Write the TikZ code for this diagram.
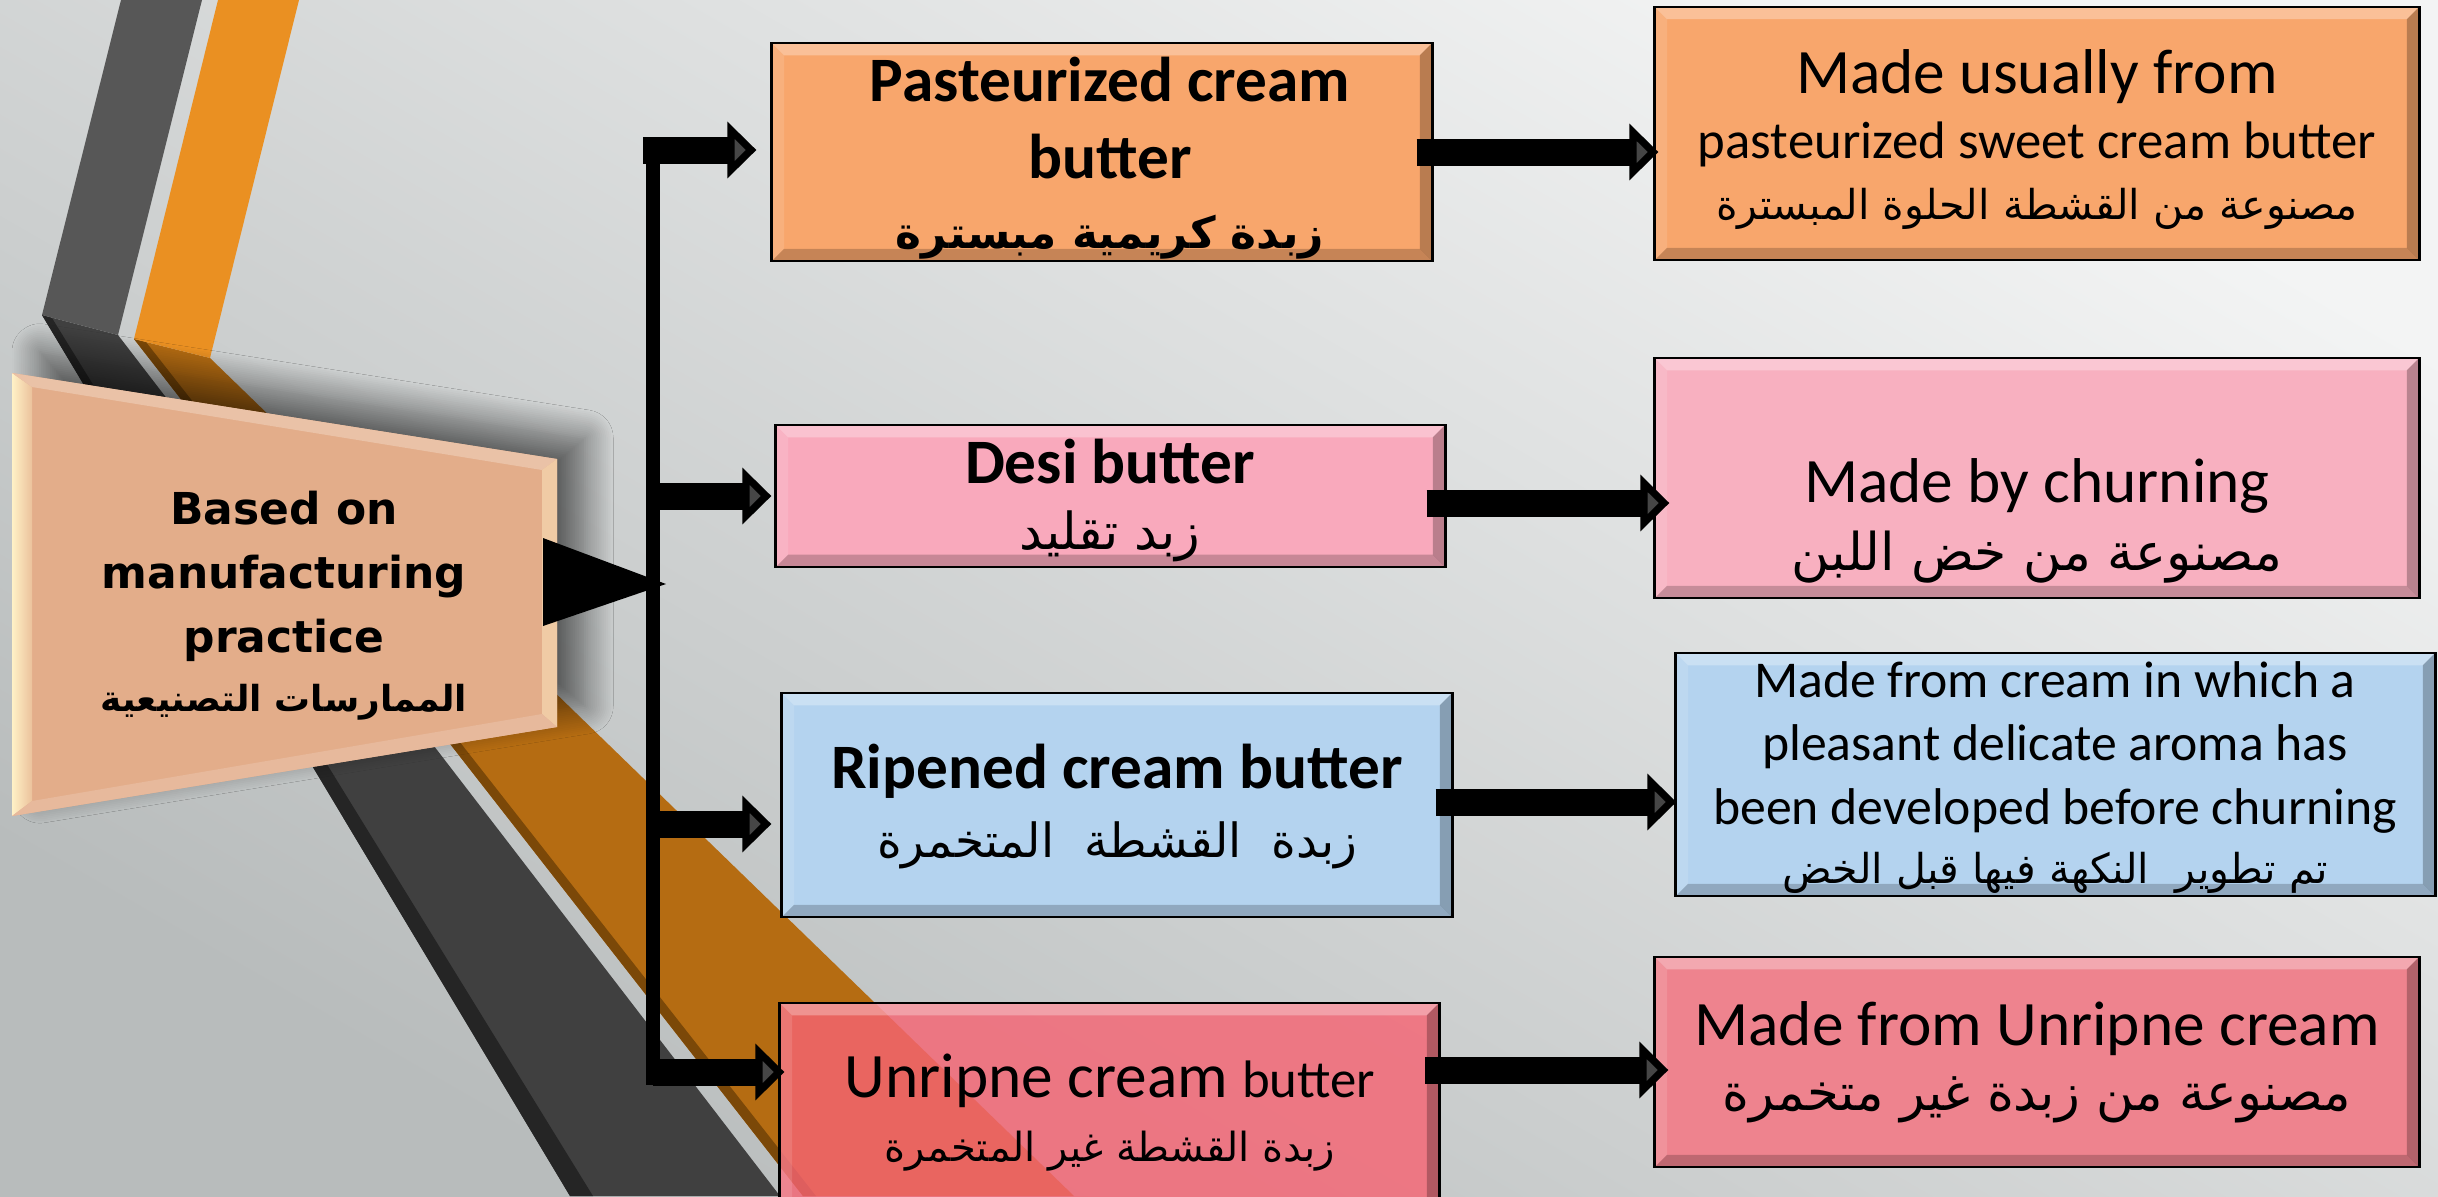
\documentclass[tikz,border=0pt]{standalone}
\usepackage{fontspec}
\setmainfont{Carlito}
\newfontfamily\arabicfont[Script=Arabic]{DejaVu Sans}
\newfontfamily\heavyfont{DejaVu Sans}
\TeXXeTstate=1
\usetikzlibrary{arrows.meta,calc,shadows.blur}
\newcommand\arb[1]{{\arabicfont\beginR#1\endR}}

\definecolor{bgtop}{HTML}{F3F4F4}
\definecolor{bgbot}{HTML}{B8BCBC}
\definecolor{greyup}{HTML}{575757}
\definecolor{greylow}{HTML}{404040}
\definecolor{greyedge}{HTML}{252525}
\definecolor{amberup}{HTML}{EA9022}
\definecolor{amberlow}{HTML}{B56C12}
\definecolor{amberedge}{HTML}{7B4808}
\definecolor{peach}{HTML}{E3AD8A}
\definecolor{cream}{HTML}{FFF1C6}
\definecolor{boxorange}{HTML}{F8A66C}
\definecolor{boxpink}{HTML}{F9A9BC}
\definecolor{boxpinklt}{HTML}{F8B0C0}
\definecolor{boxblue}{HTML}{B4D3EF}
\definecolor{boxred}{HTML}{F66473}
\definecolor{boxredlt}{HTML}{EE838E}

\tikzset{
  bevel/.style={path picture={
    \coordinate (bbsw) at (path picture bounding box.south west);
    \coordinate (bbse) at (path picture bounding box.south east);
    \coordinate (bbnw) at (path picture bounding box.north west);
    \coordinate (bbne) at (path picture bounding box.north east);
    \fill[white, opacity=.3] (bbnw) -- (bbne) -- ([shift={(-3.5pt,-3.5pt)}]bbne) -- ([shift={(3.5pt,-3.5pt)}]bbnw) -- cycle;
    \fill[white, opacity=.12] (bbnw) -- ([shift={(3.5pt,-3.5pt)}]bbnw) -- ([shift={(3.5pt,3.5pt)}]bbsw) -- (bbsw) -- cycle;
    \fill[black, opacity=.2] (bbsw) -- ([shift={(3.5pt,3.5pt)}]bbsw) -- ([shift={(-3.5pt,3.5pt)}]bbse) -- (bbse) -- cycle;
    \fill[black, opacity=.25] (bbse) -- ([shift={(-3.5pt,3.5pt)}]bbse) -- ([shift={(-3.5pt,-3.5pt)}]bbne) -- (bbne) -- cycle;
  }},
  box/.style={draw=black, line width=0.8pt, inner sep=0pt, bevel},
  txt/.style={align=center, inner sep=0pt, anchor=north},
  fat/.style={line width=0.27cm, -{Triangle[width=0.55cm,length=0.29cm]}},
}

\begin{document}
\begin{tikzpicture}[x=0.01cm, y=-0.01cm]
\lineskiplimit=-100pt
\useasboundingbox (0,0) rectangle (2438,1196);
\clip (0,0) rectangle (2438,1196);
\shade[top color=bgtop, bottom color=bgbot, shading angle=-30] (0,0) rectangle (2438,1196);

% stripes
\fill[greylow] (42,315) -- (118,335) -- (780,1196) -- (570,1196) -- cycle;
\fill[greyedge] (42,315) -- (52,318) -- (593,1196) -- (570,1196) -- cycle;
\fill[amberlow] (134,339) -- (210,358) -- (1074,1196) -- (803,1196) -- cycle;
\fill[amberedge] (134,339) -- (146,342) -- (816,1196) -- (803,1196) -- cycle;
\fill[greyup] (121,0) -- (202,0) -- (118,335) -- (42,315) -- cycle;
\fill[amberup] (218,0) -- (299,0) -- (210,358) -- (134,339) -- cycle;

% left box
\coordinate (bA) at (12,373);
\coordinate (bB) at (557,459);
\coordinate (bC) at (557,727);
\coordinate (bD) at (12,816);
\coordinate (ia) at (32,387);
\coordinate (ib) at (542,470);
\coordinate (ic) at (542,714);
\coordinate (id) at (32,801);
\fill[peach, blur shadow={shadow xshift=8pt, shadow yshift=6pt, shadow blur radius=8pt, shadow blur steps=16, shadow opacity=55}]
  (bA) -- (bB) -- (bC) -- (bD) -- cycle;
\shade[left color=cream, right color=peach!70!cream] (bA) -- (ia) -- (id) -- (bD) -- cycle;
\fill[peach!75!white] (bA) -- (bB) -- (ib) -- (ia) -- cycle;
\fill[peach!55!cream] (bB) -- (bC) -- (ic) -- (ib) -- cycle;
\fill[peach!85!white] (bD) -- (id) -- (ic) -- (bC) -- cycle;
\node[txt, font=\heavyfont\bfseries\fontsize{12.5}{18.2}\selectfont] (based) at (284,490)
  {Based on\\manufacturing\\practice\\[-1.2pt]\arb{\fontsize{10.2}{13}\selectfont الممارسات التصنيعية}};

% middle boxes
\node[box, fill=boxorange, minimum width=6.6cm, minimum height=2.18cm] (past) at (1102,152) {};
\node[box, fill=boxpink, minimum width=6.69cm, minimum height=1.42cm] (desi) at (1110.5,496) {};
\node[box, fill=boxblue, minimum width=6.7cm, minimum height=2.24cm] (ripe) at (1117,805) {};
\node[box, fill=boxred, fill opacity=.81, minimum width=6.59cm, minimum height=2.07cm] (unripe) at (1109.5,1106.5) {};

\node[txt, font=\bfseries\fontsize{18}{22}\selectfont] (pasttxt) at (1110,56)
  {Pasteurized cream\\butter\\[-2pt]\arb{\fontsize{12.5}{15}\selectfont زبدة كريمية مبسترة}};
\node[txt, font=\fontsize{18}{19}\selectfont] (desitxt) at (1110,438)
  {\textbf{Desi butter}\\\arb{\fontsize{14.5}{17}\selectfont زبد تقليد}};
\node[txt, font=\fontsize{18}{19.6}\selectfont] (ripetxt) at (1117,743)
  {\textbf{Ripened cream butter}\\\arb{\fontsize{13.4}{16}\selectfont زبدة~ القشطة~ المتخمرة}};
\node[txt, font=\fontsize{18}{18.2}\selectfont] (unripetxt) at (1110,1053)
  {Unripne cream {\fontsize{15}{18}\selectfont butter}\\\arb{\fontsize{11.4}{14}\selectfont زبدة القشطة غير المتخمرة}};

% right boxes
\node[box, fill=boxorange, minimum width=7.64cm, minimum height=2.53cm] (pastd) at (2037,133.5) {};
\node[box, fill=boxpinklt, minimum width=7.64cm, minimum height=2.4cm] (desid) at (2037,478) {};
\node[box, fill=boxblue, minimum width=7.59cm, minimum height=2.43cm] (ripend) at (2055.5,774.5) {};
\node[box, fill=boxredlt, minimum width=7.64cm, minimum height=2.1cm] (unripend) at (2037,1062) {};

\node[txt, font=\fontsize{18}{18.5}\selectfont] (pastdtxt) at (2037,49)
  {Made usually from\\{\fontsize{15}{18}\selectfont pasteurized sweet cream butter}\\[-1.2pt]\arb{\fontsize{11.7}{14}\selectfont مصنوعة من القشطة الحلوة المبسترة}};
\node[txt, font=\fontsize{18}{19.4}\selectfont] (desidtxt) at (2037,458)
  {Made by churning\\\arb{\fontsize{14.8}{18}\selectfont مصنوعة من خض اللبن}};
\node[txt, font=\fontsize{14.7}{18}\selectfont] (ripendtxt) at (2055,661)
  {Made from cream in which a\\pleasant delicate aroma has\\been developed before churning\\[-1pt]\arb{\fontsize{11.7}{14}\selectfont تم تطوير~ النكهة فيها قبل الخض}};
\node[txt, font=\fontsize{18}{18.5}\selectfont] (unripendtxt) at (2037,1001)
  {Made from Unripne cream\\\arb{\fontsize{14.6}{17}\selectfont مصنوعة من زبدة غير متخمرة}};

% fan of arrows
\coordinate (ttop) at (653,137);
\coordinate (tbot) at (653,1085);
\coordinate (t1) at (643,150);
\coordinate (t2) at (653,496);
\coordinate (t3) at (653,824);
\coordinate (t4) at (653,1072);
\draw[line width=0.14cm] (ttop) -- (tbot);
\draw[fat] (t1) -- ($(t1 -| past.west)+(-14,0)$);
\draw[fat] (t2) -- ($(t2 -| desi.west)+(-3,0)$);
\draw[fat] (t3) -- ($(t3 -| ripe.west)+(-9,0)$);
\draw[fat] (t4) -- ($(t4 -| unripe.west)+(6,0)$);
\fill (543,538) -- (666,584) -- (543,626) -- cycle;

% to the descriptions
\coordinate (u4) at (1425,1070);
\draw[fat] ($(past.east)+(-17,0)$) -- ($(past.east -| pastd.west)+(5,0)$);
\draw[fat] ($(desi.east)+(-20,7)$) -- ($(desi.east -| desid.west)+(16,7)$);
\draw[fat] ($(ripe.east)+(-18,-3)$) -- ($(ripe.east -| ripend.west)+(2,-3)$);
\draw[fat] (u4) -- ($(u4 -| unripend.west)+(15,0)$);
\end{tikzpicture}
\end{document}
